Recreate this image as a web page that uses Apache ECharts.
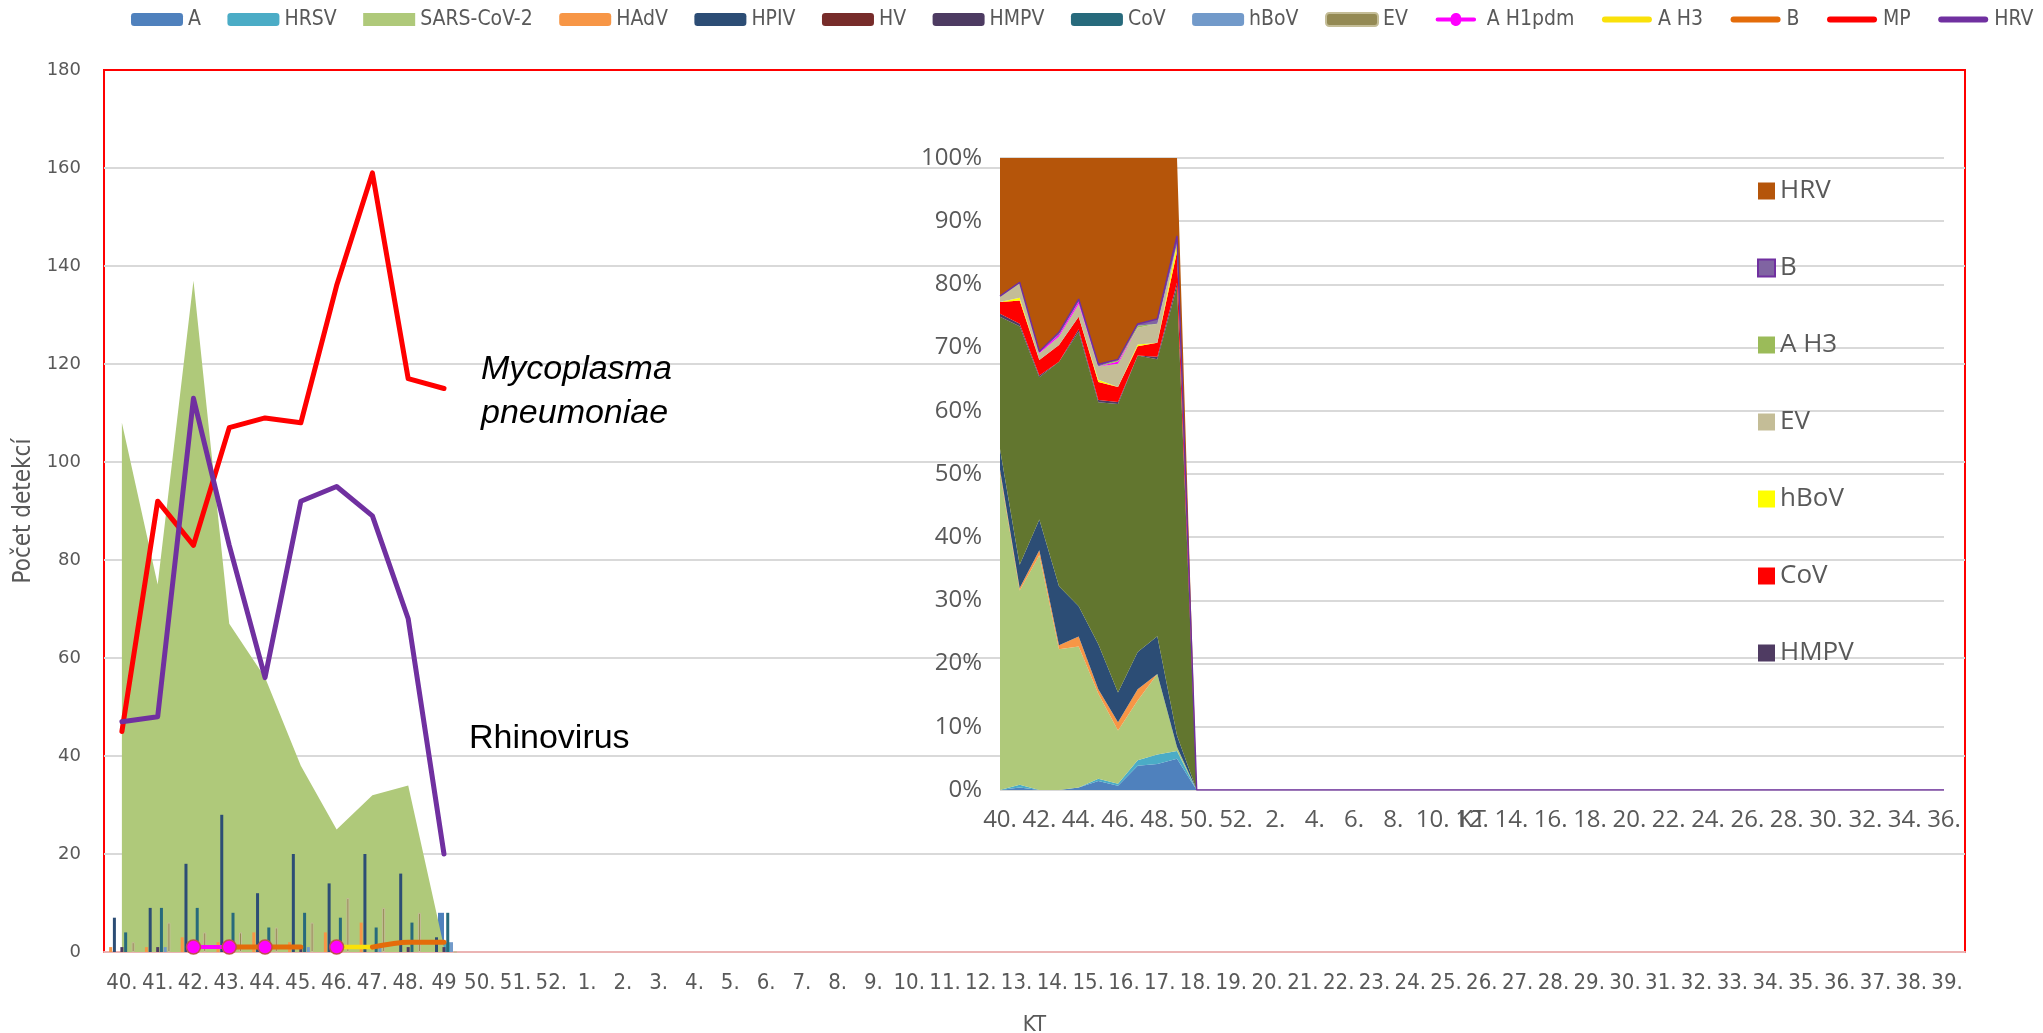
<!DOCTYPE html>
<html>
<head>
<meta charset="utf-8">
<script src="https://cdn.jsdelivr.net/npm/echarts@6/dist/echarts.min.js"></script>
<style>
  html, body { margin: 0; padding: 0; background: #ffffff; }
  #chart { width: 2043px; height: 1033px; }
</style>
</head>
<body>
<div id="chart"></div>
<script>
// Kalendářní týdny – hlavní graf (40.–39.) a podílový graf (40.–36.)
const weeksMain = ['40.', '41.', '42.', '43.', '44.', '45.', '46.', '47.', '48.', '49', '50.', '51.', '52.',
  '1.', '2.', '3.', '4.', '5.', '6.', '7.', '8.', '9.', '10.', '11.', '12.', '13.', '14.', '15.', '16.',
  '17.', '18.', '19.', '20.', '21.', '22.', '23.', '24.', '25.', '26.', '27.', '28.', '29.', '30.', '31.',
  '32.', '33.', '34.', '35.', '36.', '37.', '38.', '39.'];
const weeksShare = weeksMain.slice(0, 49);

// Počty detekcí v týdnech 40.–49.
const A        = [0, 1, 0, 0, 1, 4, 2, 13, 11, 8];
const HRSV     = [0, 1, 0, 0, 0, 1, 1, 3, 4, 2];
const SARS     = [108, 75, 137, 67, 56, 38, 25, 32, 34, 1];
const HAdV     = [1, 1, 3, 2, 4, 2, 4, 6, 0, 0];
const HPIV     = [7, 9, 18, 28, 12, 20, 14, 20, 16, 3];
const HV       = [0, 0, 0, 0, 0, 0, 0, 0, 0, 0];
const HMPV     = [1, 1, 1, 0, 1, 1, 1, 0, 1, 1];
const CoV      = [4, 9, 9, 8, 5, 8, 7, 5, 6, 8];
const hBoV     = [0, 1, 0, 0, 0, 1, 0, 1, 0, 2];
const EV       = [2, 6, 4, 4, 5, 6, 11, 9, 8, 0];
const AH1pdm   = [null, null, 1, 1, 1, null, 1, null, null, null];
const AH3      = [null, null, null, null, null, null, 1, 1, null, null];
const Bflu     = [null, null, null, 1, 1, 1, null, 1, 2, 2];
const MP       = [45, 92, 83, 107, 109, 108, 136, 159, 117, 115];
const HRV      = [47, 48, 113, 83, 56, 92, 95, 89, 68, 20];

const yTicksMain = { min: 0, max: 180, step: 20 };

// doplnění prázdných týdnů
const padNull = arr => weeksMain.map((_, i) => (i < arr.length ? arr[i] : null));

// podíly pro 100% skládaný plošný graf
const shareOrder = [
  ['A', A, '#4F81BD'], ['HRSV', HRSV, '#4BACC6'], ['SARS-CoV-2', SARS, '#AFC97A'],
  ['HAdV', HAdV, '#F79646'], ['HPIV', HPIV, '#2C4D75'], ['HV', HV, '#772C2A'],
  ['MP', MP, '#62762F'], ['HMPV', HMPV, '#4F3B62'], ['CoV', CoV, '#FF0000'],
  ['hBoV', hBoV, '#FFFF00'], ['EV', EV, '#C4BD97'], ['A H1pdm', AH1pdm, '#FF00FF'],
  ['A H3', AH3, '#9BBB59'], ['B', Bflu, '#8064A2'], ['HRV', HRV, '#B5550A']
];
const totals = weeksShare.map((_, i) =>
  shareOrder.reduce((s, row) => s + (row[1][i] || 0), 0));
const shareOf = arr => weeksShare.map((_, i) =>
  totals[i] > 0 ? +(100 * (arr[i] || 0) / totals[i]).toFixed(3) : 0);

const gray = '#595959';
const narrow = '"Liberation Sans Narrow", "DejaVu Sans Condensed", "Roboto", sans-serif';

// ikony legendy: silná čára se zaoblenými konci (a kolečko pro A H1pdm)
const lineIcon = 'path://M0,0 M52,13 M4,3.5 L48,3.5 A3,3 0 0 1 48,9.5 L4,9.5 A3,3 0 0 1 4,3.5 Z';
const lineDotIcon = 'path://M0,0 M52,13 M4,4 L19.6,4 A6.5,6.5 0 0 1 32.4,4 L48,4 A2.5,2.5 0 0 1 48,9 ' +
  'L32.4,9 A6.5,6.5 0 0 1 19.6,9 L4,9 A2.5,2.5 0 0 1 4,4 Z';

function barSeries(name, data, color, extra) {
  return Object.assign({
    name, type: 'bar', data: padNull(data), xAxisIndex: 0, yAxisIndex: 0,
    barWidth: 3, barGap: '25%', z: 3,
    itemStyle: { color }
  }, extra || {});
}
function lineSeries(name, data, color, extra) {
  return Object.assign({
    name, type: 'line', data: padNull(data), xAxisIndex: 0, yAxisIndex: 0,
    symbol: 'none', z: 5, connectNulls: false,
    lineStyle: { color, width: 5, cap: 'round', join: 'round' },
    itemStyle: { color }
  }, extra || {});
}

const series = [
  // A a HRSV – samostatná skupina sloupců za plochou SARS-CoV-2
  { name: 'A', type: 'bar', data: padNull(A), xAxisIndex: 1, yAxisIndex: 0, barWidth: 6, barGap: '0%', z: 1,
    itemStyle: { color: '#4F81BD' } },
  { name: 'HRSV', type: 'bar', data: padNull(HRSV), xAxisIndex: 1, yAxisIndex: 0, barWidth: 6, barGap: '0%', z: 1,
    itemStyle: { color: '#4BACC6' } },
  { name: 'SARS-CoV-2', type: 'line', data: padNull(SARS), xAxisIndex: 0, yAxisIndex: 0, z: 2,
    symbol: 'none', lineStyle: { width: 0 }, itemStyle: { color: '#AFC97A' },
    areaStyle: { color: '#AFC97A', opacity: 1 } },
  barSeries('HAdV', HAdV, '#F79646'),
  barSeries('HPIV', HPIV, '#2C4D75'),
  barSeries('HV', HV, '#772C2A'),
  barSeries('HMPV', HMPV, '#4D3B62'),
  barSeries('CoV', CoV, '#276A7C'),
  barSeries('hBoV', hBoV, '#729ACA'),
  barSeries('EV', EV, '#948A54', { itemStyle: { color: '#948A54', borderColor: '#C4BD97', borderWidth: 1 } }),
  lineSeries('A H1pdm', AH1pdm, '#FF00FF', {
    symbol: 'circle', symbolSize: 14, showSymbol: true,
    lineStyle: { color: '#FF00FF', width: 4, cap: 'round' },
    itemStyle: { color: '#FF00FF', borderColor: '#C0504D', borderWidth: 1.5 } }),
  lineSeries('A H3', AH3, '#FAE10A', { lineStyle: { color: '#FAE10A', width: 4.5, cap: 'round' } }),
  lineSeries('B', Bflu, '#E46C0A', { smooth: 0.3, lineStyle: { color: '#E46C0A', width: 5, cap: 'round' } }),
  lineSeries('MP', MP, '#FF0000'),
  lineSeries('HRV', HRV, '#7030A0')
];

// 100% skládaná plocha (vložený graf)
shareOrder.forEach(([name, arr, color]) => {
  const isB = name === 'B';
  series.push({
    name: name + ' (podíl)', type: 'line', stack: 'podil', data: shareOf(arr),
    xAxisIndex: 2, yAxisIndex: 1, symbol: 'none', z: 2,
    lineStyle: isB ? { color: '#7030A0', width: 1.5 } : { width: 0 },
    itemStyle: { color, borderColor: isB ? '#7030A0' : color, borderWidth: isB ? 1.5 : 0 },
    areaStyle: { color, opacity: 1 }
  });
});

const lineItem = (name, color, icon) => ({ name, icon: icon || lineIcon, itemStyle: { color, borderWidth: 0 } });

const option = {
  animation: false,
  backgroundColor: '#ffffff',
  legend: [
    {
      left: 126, top: 4, width: 2400, itemWidth: 52, itemHeight: 13, itemGap: 26.5,
      textStyle: { color: gray, fontSize: 21, fontFamily: narrow },
      data: ['A', 'HRSV', { name: 'SARS-CoV-2', icon: 'rect', itemStyle: { color: '#AFC97A' } },
        'HAdV', 'HPIV', 'HV', 'HMPV', 'CoV', 'hBoV', 'EV',
        lineItem('A H1pdm', '#FF00FF', lineDotIcon), lineItem('A H3', '#FAE10A'),
        lineItem('B', '#E46C0A'), lineItem('MP', '#FF0000'), lineItem('HRV', '#7030A0')],
      selectedMode: false
    },
    {
      orient: 'vertical', left: 1752, top: 173, itemWidth: 17, itemHeight: 17, itemGap: 51,
      icon: 'rect',
      textStyle: { color: gray, fontSize: 26, fontFamily: '"Open Sans", sans-serif' },
      formatter: n => n.replace(' (podíl)', ''),
      data: ['HRV (podíl)', 'B (podíl)', 'A H3 (podíl)', 'EV (podíl)', 'hBoV (podíl)', 'CoV (podíl)', 'HMPV (podíl)'],
      selectedMode: false
    }
  ],
  grid: [
    { left: 104, right: 78, top: 70, bottom: 81, show: true, borderColor: '#FF0000', borderWidth: 2,
      backgroundColor: 'transparent', outerBoundsMode: 'none', containLabel: false },
    { left: 1000, top: 158, width: 944, height: 632, outerBoundsMode: 'none', containLabel: false }
  ],
  xAxis: [
    { type: 'category', gridIndex: 0, data: weeksMain, boundaryGap: true,
      name: 'KT', nameLocation: 'middle', nameGap: 62, nameMoveOverlap: false,
      nameTextStyle: { color: gray, fontSize: 22, fontFamily: narrow },
      axisLine: { lineStyle: { color: '#EBB4B4', width: 2 } }, axisTick: { show: false },
      axisLabel: { interval: 0, color: gray, fontSize: 22, fontFamily: narrow, margin: 20 } },
    { type: 'category', gridIndex: 0, data: weeksMain, show: false },
    { type: 'category', gridIndex: 1, data: weeksShare, boundaryGap: false,
      name: 'KT', nameLocation: 'middle', nameGap: 18, nameMoveOverlap: false,
      nameTextStyle: { color: gray, fontSize: 24, fontFamily: '"Open Sans", sans-serif' },
      axisLine: { show: false }, axisTick: { show: false },
      axisLabel: { interval: 1, color: gray, fontSize: 24, fontFamily: '"Open Sans", sans-serif', margin: 18 } }
  ],
  yAxis: [
    { type: 'value', gridIndex: 0, min: yTicksMain.min, max: yTicksMain.max, interval: yTicksMain.step,
      name: 'Počet detekcí', nameLocation: 'middle', nameGap: 68, nameMoveOverlap: false,
      nameTextStyle: { color: gray, fontSize: 24, fontFamily: narrow },
      axisLine: { show: false }, axisTick: { show: false },
      axisLabel: { color: gray, fontSize: 18, fontFamily: '"DejaVu Sans", sans-serif', margin: 23 },
      splitLine: { showMinLine: false, showMaxLine: false, lineStyle: { color: '#D9D9D9', width: 2 } } },
    { type: 'value', gridIndex: 1, min: 0, max: 100, interval: 10,
      axisLine: { show: false }, axisTick: { show: false },
      axisLabel: { color: gray, fontSize: 24, fontFamily: '"Open Sans", sans-serif', formatter: '{value}%', margin: 18 },
      splitLine: { lineStyle: { color: '#D9D9D9', width: 2 } } }
  ],
  graphic: [
    { type: 'text', left: 481, top: 353, z: 10,
      style: { text: 'Mycoplasma', font: 'italic 34px "Liberation Sans", sans-serif', fill: '#000' } },
    { type: 'text', left: 481, top: 397, z: 10,
      style: { text: 'pneumoniae', font: 'italic 34px "Liberation Sans", sans-serif', fill: '#000' } },
    { type: 'text', left: 469, top: 722, z: 10,
      style: { text: 'Rhinovirus', font: '34px "Liberation Sans", sans-serif', fill: '#000' } }
  ],
  series
};

const chart = echarts.init(document.getElementById('chart'), null, { renderer: 'canvas' });
chart.setOption(option);
</script>
</body>
</html>
